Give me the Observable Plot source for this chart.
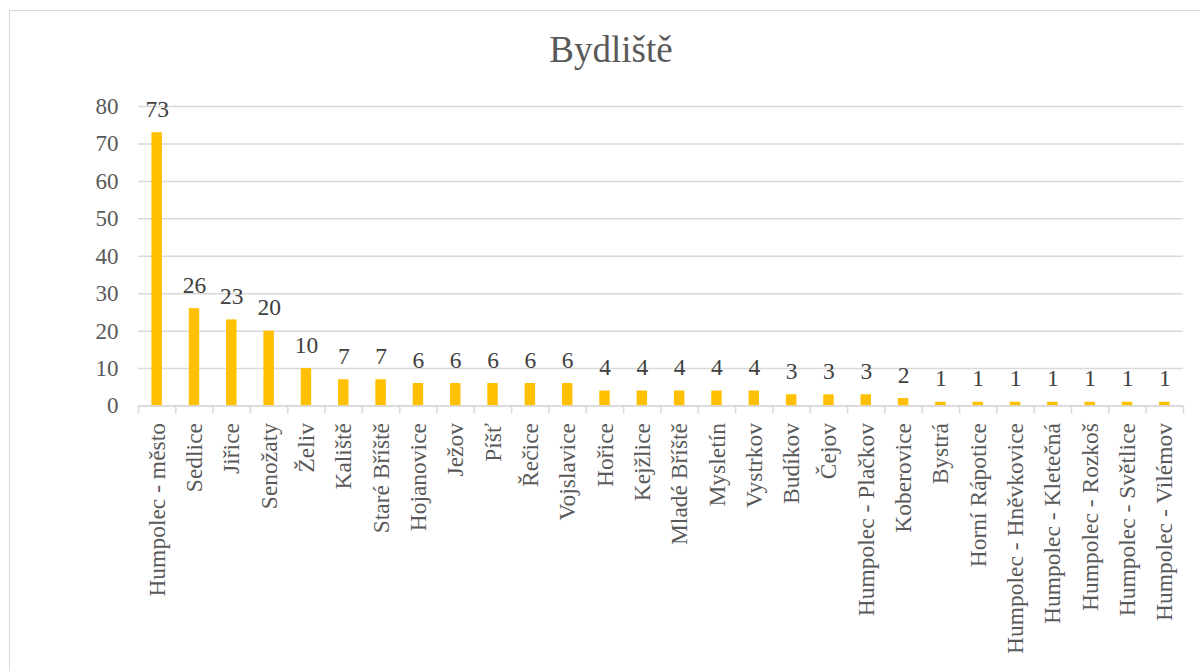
<!DOCTYPE html>
<html>
<head>
<meta charset="utf-8">
<script src="https://cdn.jsdelivr.net/npm/d3@7"></script>
<script src="https://cdn.jsdelivr.net/npm/@observablehq/plot@0.6"></script>
<style>
  html, body { margin: 0; padding: 0; background: #fff; overflow: hidden; width: 1200px; height: 671px; }
  #frame { position: absolute; left: 9px; top: 10px; width: 1204px; height: 700px; border: 1px solid #d9d9d9; box-sizing: border-box; background: #fff; }
  #title { height: 80px; box-sizing: border-box; padding-top: 18px; text-align: center; font-family: "Liberation Serif", serif; font-size: 37px; line-height: 1.15; color: #595959; }
  #chart svg { display: block; }
  #chart svg text { font-family: "Liberation Serif", serif; font-variant: normal; }
</style>
</head>
<body>
<div id="frame">
  <div id="title">Bydliště</div>
  <div id="chart"></div>
</div>
<script>
const categories = [
  "Humpolec - město", "Sedlice", "Jiřice", "Senožaty", "Želiv", "Kaliště", "Staré Bříště",
  "Hojanovice", "Ježov", "Píšť", "Řečice", "Vojslavice", "Hořice", "Kejžlice", "Mladé Bříště",
  "Mysletín", "Vystrkov", "Budíkov", "Čejov", "Humpolec - Plačkov", "Koberovice", "Bystrá",
  "Horní Rápotice", "Humpolec - Hněvkovice", "Humpolec - Kletečná", "Humpolec - Rozkoš",
  "Humpolec - Světlice", "Humpolec - Vilémov"
];
const values = [73, 26, 23, 20, 10, 7, 7, 6, 6, 6, 6, 6, 4, 4, 4, 4, 4, 3, 3, 3, 2, 1, 1, 1, 1, 1, 1, 1];
const yTicks = [0, 10, 20, 30, 40, 50, 60, 70, 80];

const data = categories.map((c, i) => ({category: c, value: values[i]}));

const W = 1190, H = 580;
const mL = 128, mR = 17, mT = 15, mB = 265.5;
const step = (W - mL - mR) / categories.length;
const grid = "#d9d9d9";
const serif = "'Liberation Serif', serif";

const chart = Plot.plot({
  width: W,
  height: H,
  marginLeft: mL,
  marginRight: mR,
  marginTop: mT,
  marginBottom: mB,
  style: {fontFamily: serif, fontSize: "23px", color: "#595959", background: "transparent", overflow: "visible"},
  x: {domain: categories, paddingInner: 0.72, paddingOuter: 0.36, round: false, axis: null, label: null},
  y: {domain: [0, 80], axis: null, label: null},
  marks: [
    Plot.gridY(yTicks, {stroke: grid, strokeOpacity: 1, strokeWidth: 1.5}),
    Plot.text(yTicks, {y: d => d, text: d => String(d), frameAnchor: "left", textAnchor: "end", dx: -20, fontSize: 23, fontFamily: serif, fill: "#595959"}),
    Plot.barY(data, {x: "category", y: "value", fill: "#FFC000"}),
    Plot.ruleY([0], {stroke: grid, strokeWidth: 1.5}),
    Plot.ruleX(categories, {x: d => d, y1: 0, y2: 0, insetBottom: -8, dx: -step / 2, stroke: grid, strokeWidth: 1.5}),
    Plot.ruleX(categories.slice(-1), {x: d => d, y1: 0, y2: 0, insetBottom: -8, dx: step / 2, stroke: grid, strokeWidth: 1.5}),
    Plot.text(data, {x: "category", y: "value", text: d => String(d.value), dy: -16, lineAnchor: "bottom", fontSize: 23.5, fontFamily: serif, fill: "#404040"}),
    Plot.axisX({label: null, tickSize: 0, tickPadding: 17, tickRotate: -90, textAnchor: "end", fontSize: 23.5, fontFamily: serif, fill: "#595959"})
  ]
});
document.getElementById("chart").appendChild(chart);
</script>
</body>
</html>
